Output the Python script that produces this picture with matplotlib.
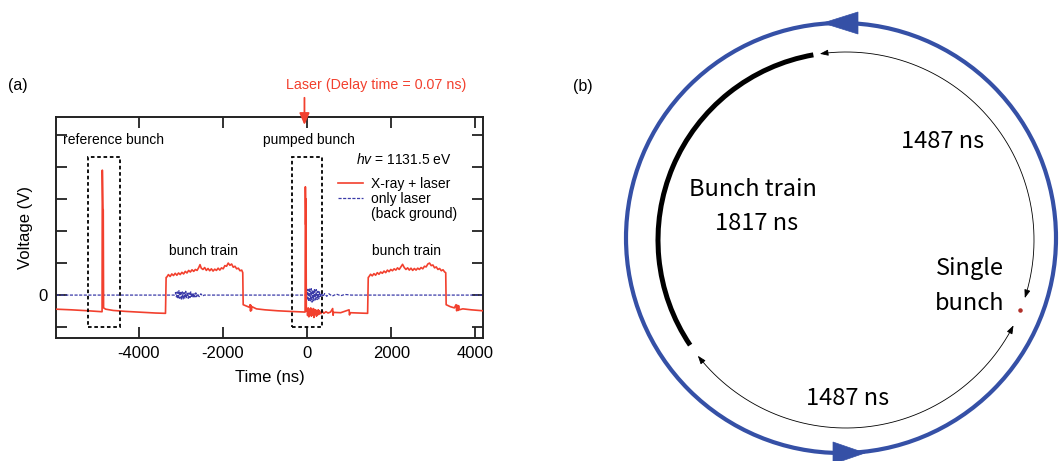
import numpy as np
import matplotlib
matplotlib.use("Agg")
import matplotlib.pyplot as plt
from matplotlib.patches import Rectangle, Circle, Arc, Polygon, FancyArrowPatch
from matplotlib.path import Path

plt.rcParams['font.family'] = ['Liberation Sans', 'DejaVu Sans']
plt.rcParams['mathtext.fontset'] = 'custom'
plt.rcParams['mathtext.it'] = 'Liberation Sans:italic'
plt.rcParams['mathtext.rm'] = 'Liberation Sans'
plt.rcParams['axes.unicode_minus'] = False

# ---------------- data (panel a) ----------------
# red trace: X-ray + laser  (time ns, voltage in tick units)
seg_ref = [(-5960, -0.44), (-5600, -0.46), (-5200, -0.49), (-4880, -0.52), (-4866, -0.52),
           (-4860, 3.90), (-4852, 3.20), (-4846, 2.70), (-4838, 2.66), (-4830, -0.40),
           (-4780, -0.44), (-4600, -0.48), (-4300, -0.51), (-3900, -0.54), (-3600, -0.56),
           (-3360, -0.57)]
train1 = [(-3345, 0.55), (-3330, 0.56), (-3290, 0.64), (-3250, 0.58), (-3210, 0.66), (-3170, 0.61),
          (-3130, 0.68), (-3090, 0.62), (-3050, 0.69), (-3010, 0.64), (-2970, 0.71), (-2930, 0.66),
          (-2890, 0.74), (-2850, 0.69), (-2810, 0.77), (-2770, 0.72), (-2730, 0.79), (-2690, 0.74),
          (-2650, 0.80), (-2610, 0.77), (-2570, 0.86), (-2540, 0.95), (-2510, 0.84), (-2470, 0.80),
          (-2430, 0.86), (-2390, 0.77), (-2350, 0.83), (-2310, 0.76), (-2270, 0.82), (-2230, 0.75),
          (-2190, 0.81), (-2150, 0.77), (-2110, 0.84), (-2070, 0.78), (-2030, 0.85), (-1990, 0.82),
          (-1950, 0.92), (-1910, 0.90), (-1870, 1.00), (-1830, 0.93), (-1790, 0.97), (-1750, 0.87),
          (-1710, 0.90), (-1670, 0.82), (-1630, 0.84), (-1590, 0.76), (-1550, 0.78), (-1525, 0.70)]
seg_mid = [(-1515, -0.30), (-1440, -0.34), (-1370, -0.38), (-1350, -0.30), (-1340, -0.50),
           (-1330, -0.32), (-1320, -0.48), (-1310, -0.36), (-1200, -0.43), (-1000, -0.46),
           (-700, -0.49), (-400, -0.51), (-45, -0.53), (-38, 3.38), (-30, 2.20), (-24, 3.00),
           (-16, -0.50), (0, -0.42), (15, -0.64), (30, -0.40), (45, -0.68), (60, -0.44),
           (75, -0.62), (90, -0.40), (105, -0.66), (120, -0.46), (135, -0.63), (150, -0.42),
           (165, -0.70), (180, -0.45), (195, -0.60), (210, -0.47), (225, -0.66), (240, -0.48),
           (255, -0.62), (270, -0.46), (285, -0.60), (300, -0.50), (330, -0.58), (360, -0.50),
           (400, -0.57), (450, -0.52), (500, -0.56), (560, -0.53), (610, -0.42), (620, -0.63),
           (630, -0.54), (800, -0.55), (1000, -0.46), (1010, -0.62), (1020, -0.55),
           (1200, -0.56), (1440, -0.57)]
train2 = [(1455, 0.55), (1470, 0.57), (1510, 0.65), (1550, 0.60), (1590, 0.67), (1630, 0.62),
          (1670, 0.70), (1710, 0.65), (1750, 0.72), (1790, 0.68), (1830, 0.75), (1870, 0.70),
          (1910, 0.78), (1950, 0.73), (1990, 0.80), (2030, 0.76), (2070, 0.82), (2110, 0.78),
          (2150, 0.85), (2190, 0.80), (2230, 0.88), (2270, 0.96), (2310, 0.86), (2350, 0.80),
          (2390, 0.85), (2430, 0.78), (2470, 0.84), (2510, 0.77), (2550, 0.83), (2590, 0.78),
          (2630, 0.84), (2670, 0.80), (2710, 0.86), (2750, 0.82), (2790, 0.90), (2830, 0.88),
          (2870, 0.97), (2910, 1.00), (2950, 0.92), (2990, 0.94), (3030, 0.85), (3070, 0.88),
          (3110, 0.80), (3150, 0.83), (3190, 0.76), (3230, 0.79), (3270, 0.72), (3295, 0.70)]
seg_end = [(3305, -0.30), (3400, -0.36), (3500, -0.40), (3540, -0.30), (3555, -0.49),
           (3570, -0.32), (3585, -0.48), (3600, -0.33), (3615, -0.46), (3700, -0.43),
           (3900, -0.46), (4180, -0.49)]

# blue trace: only laser (background)
blue = [(-5960, 0.0), (-3150, 0.0), (-3120, 0.08), (-3100, -0.06), (-3080, 0.10), (-3060, -0.12),
        (-3040, 0.14), (-3020, -0.10), (-3000, 0.12), (-2980, -0.15), (-2960, 0.10), (-2940, -0.12),
        (-2920, 0.08), (-2900, -0.10), (-2880, 0.12), (-2860, -0.08), (-2840, 0.09), (-2820, -0.10),
        (-2800, 0.07), (-2780, -0.08), (-2760, 0.10), (-2740, -0.07), (-2720, 0.06), (-2700, -0.08),
        (-2680, 0.05), (-2660, -0.06), (-2640, 0.07), (-2620, -0.05), (-2600, 0.04), (-2560, -0.05),
        (-2520, 0.04), (-2480, -0.03), (-2440, 0.0), (-40, 0.0), (-20, 0.05), (0, -0.15),
        (20, 0.18), (40, -0.20), (60, 0.22), (80, -0.18), (100, 0.20), (120, -0.22), (140, 0.16),
        (160, -0.18), (180, 0.20), (200, -0.15), (220, 0.17), (240, -0.14), (260, 0.12),
        (280, -0.12), (300, 0.10), (320, -0.08), (340, 0.07), (380, -0.05), (420, 0.05),
        (470, -0.04), (520, 0.04), (600, -0.03), (700, 0.03), (800, -0.02), (900, 0.02),
        (1050, 0.0), (4180, 0.0)]

# dashed boxes: (t_start, t_end, v_bottom, v_top)
boxes = [(-5194, -4442, -1.01, 4.32), (-363, 364, -1.01, 4.32)]
x_ticks = [-4000, -2000, 0, 2000, 4000]
x_ticklabels = ['-4000', '-2000', '0', '2000', '4000']
y_ticks = [-1, 0, 1, 2, 3, 4, 5]
y_ticklabels = ['', '0', '', '', '', '', '']

# ---------------- data (panel b) ----------------
train_arc_deg = (100, 214)          # bunch train 1817 ns
gap_top_arc_deg = (-18, 98)         # 1487 ns (upper)
gap_bottom_arc_deg = (-27, -142)    # 1487 ns (lower)
single_bunch_deg = -22

RED = '#f2402e'
BLUE = '#3a3aa8'
RING = '#3550a6'

W, H = 1061, 461
fig = plt.figure(figsize=(W / 100, H / 100), dpi=100)

# --------- panel (b) canvas in pixel coords (y up) ---------
ax2 = fig.add_axes([0, 0, 1, 1])
ax2.set_xlim(0, W)
ax2.set_ylim(0, H)
ax2.axis('off')
ax2.patch.set_visible(False)

# --------- panel (a) ---------
ax = fig.add_axes([56 / W, 1 - 338 / H, (483 - 56) / W, (338 - 117) / H])
ax.set_zorder(2)
red = np.array(seg_ref + train1 + seg_mid + train2 + seg_end)
bl = np.array(blue)
h_blue, = ax.plot(bl[:, 0], bl[:, 1], color=BLUE, lw=0.9, ls=(0, (2.5, 1.2)), zorder=2)
h_red, = ax.plot(red[:, 0], red[:, 1], color=RED, lw=1.2, zorder=3)
for (t0, t1, v0, v1) in boxes:
    ax.add_patch(Rectangle((t0, v0), t1 - t0, v1 - v0, fill=False, ec='k', lw=1.3,
                           ls=(0, (2, 1.5)), zorder=4))
ax.set_xlim(-5960, 4180)
ax.set_ylim(-1.34, 5.56)
ax.set_xticks(x_ticks)
ax.set_xticklabels(x_ticklabels)
ax.set_yticks(y_ticks)
ax.set_yticklabels(y_ticklabels)
ax.tick_params(direction='in', top=True, right=True, length=8, width=1.3, labelsize=12,
               pad=6, color='#222222')
for s in ax.spines.values():
    s.set_linewidth(1.4)
    s.set_color('#222222')
ax.set_xlabel('Time (ns)', fontsize=12, labelpad=6)
ax.set_ylabel('Voltage (V)', fontsize=12, labelpad=4)

ax.text(-5790, 4.84, 'reference bunch', fontsize=10, ha='left', va='center')
ax.text(50, 4.84, 'pumped bunch', fontsize=10, ha='center', va='center')
ax.text(1165, 4.22, r'$hv$ = 1131.5 eV', fontsize=10, ha='left', va='center')
ax.text(-2447, 1.375, 'bunch train', fontsize=10, ha='center', va='center')
ax.text(2375, 1.375, 'bunch train', fontsize=10, ha='center', va='center')
ax.text(1513, 2.53, '(back ground)', fontsize=10, ha='left', va='center')
ax.legend([h_red, h_blue], ['X-ray + laser', 'only laser'], loc='upper left',
          bbox_to_anchor=(0.661, 0.728), frameon=False, fontsize=10, borderpad=0,
          borderaxespad=0, handlelength=1.8, handletextpad=0.55, labelspacing=0.07)
ax.text(1655, 6.56, 'Laser (Delay time = 0.07 ns)', color=RED, ha='center', va='center',
        fontsize=10.3, clip_on=False)
ax.annotate('', xy=(-60, 5.31), xytext=(-60, 6.16), annotation_clip=False,
            arrowprops=dict(arrowstyle='-|>,head_length=0.7,head_width=0.3', color=RED,
                            lw=1.3, shrinkA=0, shrinkB=0))
fig.text(8 / W, 1 - 85 / H, '(a)', fontsize=11.5, ha='left', va='center')

# --------- panel (b) drawing ---------
cxb, cyb, rb = 841, H - 238, 215
cxi, cyi, ri = 846, H - 240, 188
ax2.add_patch(Circle((cxb, cyb), rb, fill=False, ec=RING, lw=3))
ax2.add_patch(Polygon([(cxb - 18, cyb + rb), (cxb + 17, cyb + rb + 11), (cxb + 17, cyb + rb - 11)],
                      closed=True, fc=RING, ec=RING, lw=0.5))
ax2.add_patch(Polygon([(cxb + 24, cyb - rb), (cxb - 8, cyb - rb + 11), (cxb - 8, cyb - rb - 11)],
                      closed=True, fc=RING, ec=RING, lw=0.5))
ax2.add_patch(Arc((cxi, cyi), 2 * ri, 2 * ri, theta1=train_arc_deg[0], theta2=train_arc_deg[1],
                  lw=3.6, color='k'))


def arc_path(a0, a1):
    th = np.radians(np.linspace(a0, a1, 200))
    return Path(np.column_stack([cxi + ri * np.cos(th), cyi + ri * np.sin(th)]))


for a0, a1 in (gap_top_arc_deg, gap_bottom_arc_deg):
    ax2.add_patch(FancyArrowPatch(path=arc_path(a0, a1),
                                  arrowstyle='<|-|>,head_length=5,head_width=1.8',
                                  mutation_scale=1, lw=0.6, color='k', shrinkA=0, shrinkB=0))
sb = np.radians(single_bunch_deg)
ax2.scatter([cxi + ri * np.cos(sb)], [cyi + ri * np.sin(sb)], s=5, color='#b0302a', zorder=5)

FB = ['Noto Sans CJK JP', 'DejaVu Sans']
ax2.text(583, H - 87, '(b)', fontsize=11.5, ha='center', va='center')
ax2.text(943, H - 142, '1487 ns', fontsize=17, family=FB, ha='center', va='center')
ax2.text(753, H - 190, 'Bunch train', fontsize=17, family=FB, ha='center', va='center')
ax2.text(757, H - 223, '1817 ns', fontsize=17, family=FB, ha='center', va='center')
ax2.text(970, H - 268, 'Single', fontsize=17, family=FB, ha='center', va='center')
ax2.text(970, H - 303, 'bunch', fontsize=17, family=FB, ha='center', va='center')
ax2.text(848, H - 398, '1487 ns', fontsize=17, family=FB, ha='center', va='center')

fig.savefig('out.png', dpi=100)
